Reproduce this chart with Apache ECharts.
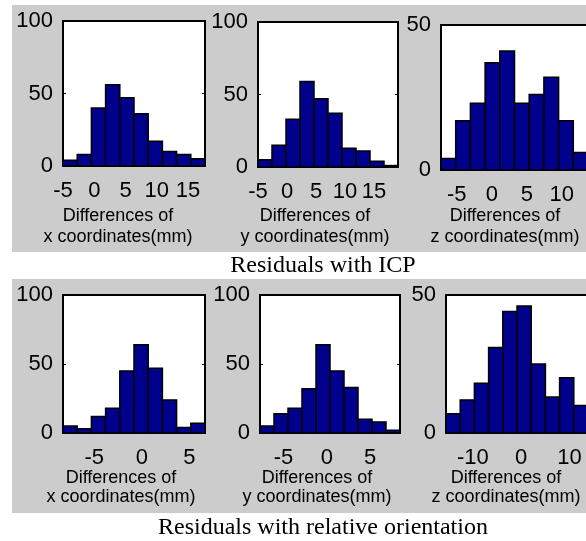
<!DOCTYPE html>
<html>
<head>
<meta charset="utf-8">
<script src="https://cdn.jsdelivr.net/npm/echarts@6/dist/echarts.min.js"></script>
<style>
html, body { margin: 0; padding: 0; background: #fff; }
#main { width: 586px; height: 541px; }
</style>
</head>
<body>
<div id="main"></div>
<script>
// bin counts (10 bins each)
var icpX = [4, 8, 40, 56, 47, 36, 17, 10, 8, 5];
var icpY = [5, 15, 33, 59, 47, 37, 13, 11, 4, 1];
var icpZ = [4, 17, 23, 37, 41, 23, 26, 32, 17, 6];
var relX = [5, 3, 12, 18, 45, 64, 47, 24, 4, 7];
var relY = [5, 14, 18, 32, 64, 45, 33, 10, 8, 2];
var relZ = [7, 12, 18, 31, 44, 46, 25, 13, 20, 10];

// data range (mm) covered by the 10 bins of each histogram
var icpXRange = [-5, 17.72];
var icpYRange = [-5, 19.14];
var icpZRange = [-7.26, 13.75];
var relXRange = [-8.28, 6.65];
var relYRange = [-7.72, 8.46];
var relZRange = [-15.55, 13.82];

// tick labels
var xTicksA = [-5, 0, 5, 10, 15];
var xTicksB = [-5, 0, 5, 10];
var xTicksC = [-5, 0, 5];
var xTicksD = [-10, 0, 10];
var countTicks100 = [0, 50, 100];
var countTicks50 = [0, 50];

var captions = ['Residuals with ICP', 'Residuals with relative orientation'];
var nameTop = 'Differences of';
var nameBottom = ['x coordinates(mm)', 'y coordinates(mm)', 'z coordinates(mm)'];

var panels = [
    {counts: icpX, range: icpXRange, xt: xTicksA, yMax: 100, yt: countTicks100, box: [63, 21, 142, 145], label: [118, 216, 237], k: 0},
    {counts: icpY, range: icpYRange, xt: xTicksA, yMax: 100, yt: countTicks100, box: [258, 22, 140, 145], label: [315, 216, 237], k: 1},
    {counts: icpZ, range: icpZRange, xt: xTicksB, yMax: 50, yt: countTicks50, box: [441, 25, 147, 145], label: [505, 216, 237], k: 2},
    {counts: relX, range: relXRange, xt: xTicksC, yMax: 100, yt: countTicks100, box: [63, 295, 142, 138], label: [121, 478, 497], k: 0},
    {counts: relY, range: relYRange, xt: xTicksC, yMax: 100, yt: countTicks100, box: [260, 295, 140, 138], label: [317, 478, 497], k: 1},
    {counts: relZ, range: relZRange, xt: xTicksD, yMax: 50, yt: countTicks50, box: [446, 295, 142, 138], label: [506, 478, 497], k: 2}
];

var myChart = echarts.init(document.getElementById('main'), null, {renderer: 'canvas'});

function renderBar(params, api) {
    var p0 = api.coord([api.value(0), 0]);
    var p1 = api.coord([api.value(1), api.value(2)]);
    return {
        type: 'rect',
        shape: {x: p0[0], y: p1[1], width: p1[0] - p0[0], height: p0[1] - p1[1]},
        style: {fill: '#00008c', stroke: '#000', lineWidth: 1.5}
    };
}

var grids = [], xAxes = [], yAxes = [], series = [];
var graphics = [
    {type: 'rect', shape: {x: 12, y: 5, width: 574, height: 247}, style: {fill: '#cccccc'}, z: -10},
    {type: 'rect', shape: {x: 12, y: 279, width: 574, height: 234}, style: {fill: '#cccccc'}, z: -10},
    {type: 'text', x: 323, y: 266, style: {text: captions[0], font: '24px "Liberation Serif"', fill: '#000', textAlign: 'center', textVerticalAlign: 'middle'}},
    {type: 'text', x: 323, y: 528, style: {text: captions[1], font: '24px "Liberation Serif"', fill: '#000', textAlign: 'center', textVerticalAlign: 'middle'}}
];

panels.forEach(function (p, i) {
    grids.push({
        left: p.box[0], top: p.box[1], width: p.box[2], height: p.box[3],
        show: true, backgroundColor: '#fff', borderColor: '#000', borderWidth: 2,
        containLabel: false, outerBoundsMode: 'none'
    });
    xAxes.push({
        type: 'value', gridIndex: i, min: p.range[0], max: p.range[1],
        axisLine: {show: false, onZero: false}, splitLine: {show: false},
        axisTick: {show: true, inside: true, length: 3, customValues: p.xt, lineStyle: {color: '#000'}},
        axisLabel: {customValues: p.xt, margin: 14, fontSize: 22, fontFamily: 'Liberation Sans', color: '#000'}
    });
    yAxes.push({
        type: 'value', gridIndex: i, position: 'left', min: 0, max: p.yMax,
        axisLine: {show: false, onZero: false}, splitLine: {show: false},
        axisTick: {show: true, inside: true, length: 3, customValues: p.yt, lineStyle: {color: '#000'}},
        axisLabel: {customValues: p.yt, margin: 10, fontSize: 22, fontFamily: 'Liberation Sans', color: '#000'}
    });
    var step = (p.range[1] - p.range[0]) / p.counts.length;
    var data = p.counts.map(function (c, j) {
        return [p.range[0] + j * step, p.range[0] + (j + 1) * step, c];
    });
    series.push({
        type: 'custom', xAxisIndex: i, yAxisIndex: i,
        renderItem: renderBar, encode: {x: [0, 1], y: 2},
        data: data, silent: true
    });
    graphics.push({type: 'text', x: p.label[0], y: p.label[1], style: {text: nameTop, font: '18px "Liberation Sans"', fill: '#000', textAlign: 'center', textVerticalAlign: 'middle'}});
    graphics.push({type: 'text', x: p.label[0], y: p.label[2], style: {text: nameBottom[p.k], font: '18px "Liberation Sans"', fill: '#000', textAlign: 'center', textVerticalAlign: 'middle'}});
});

// mirrored ticks on the right side of each box
panels.forEach(function (p, i) {
    yAxes.push({
        type: 'value', gridIndex: i, position: 'right', min: 0, max: p.yMax,
        axisLine: {show: false, onZero: false}, splitLine: {show: false}, axisLabel: {show: false},
        axisTick: {show: true, inside: true, length: 3, customValues: p.yt, lineStyle: {color: '#000'}}
    });
});

option = {
    backgroundColor: '#fff',
    animation: false,
    grid: grids,
    xAxis: xAxes,
    yAxis: yAxes,
    series: series,
    graphic: graphics
};

myChart.setOption(option);
</script>
</body>
</html>
